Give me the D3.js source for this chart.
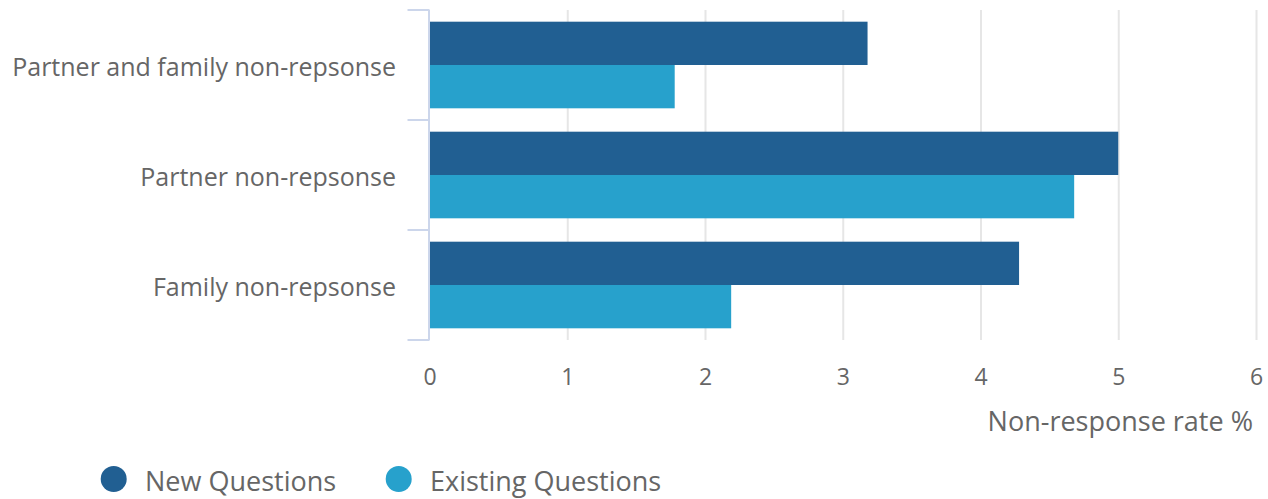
<!DOCTYPE html>
<html>
<head>
<meta charset="utf-8">
<script src="https://cdn.jsdelivr.net/npm/d3@7"></script>
<style>
  html, body { margin: 0; padding: 0; background: #fff; }
  svg { display: block; font-family: "Open Sans", sans-serif; }
</style>
</head>
<body>
<svg id="chart" width="1268" height="499"></svg>
<script>
// Non-response rates by question group
const categories = ["Partner and family non-repsonse", "Partner non-repsonse", "Family non-repsonse"];
const seriesNames = ["New Questions", "Existing Questions"];
const newQuestions = [3.18, 5.0, 4.28];
const existingQuestions = [1.78, 4.68, 2.19];
const xTicks = [0, 1, 2, 3, 4, 5, 6];
const xTitle = "Non-response rate %";

const colors = ["#215f92", "#27a1cc"];
const textColor = "#666666";

const svg = d3.select("#chart");

const plot = { left: 429.5, right: 1256, top: 10, bottom: 340 };

const x = d3.scaleLinear().domain([0, 6]).range([plot.left, plot.right]);
const y = d3.scaleBand().domain(categories).range([plot.top, plot.bottom]).paddingInner(0).paddingOuter(0);
const inner = d3.scaleBand().domain(seriesNames).range([0, y.bandwidth()]).paddingOuter(0.27).paddingInner(0);

// vertical grid lines
const grid = svg.append("g")
  .attr("transform", `translate(0,${plot.bottom})`)
  .call(d3.axisBottom(x).tickValues(xTicks).tickSize(-(plot.bottom - plot.top)).tickFormat(""));
grid.select(".domain").remove();
grid.selectAll(".tick line").attr("stroke", "#e6e6e6").attr("stroke-width", 2);
grid.selectAll(".tick").filter(d => d === 0).remove();

// bars
const rows = categories.map((c, i) => ({ cat: c, values: [newQuestions[i], existingQuestions[i]] }));
const groups = svg.append("g").selectAll("g").data(rows).join("g")
  .attr("transform", d => `translate(0,${y(d.cat)})`);
groups.selectAll("rect").data(d => d.values.map((v, j) => ({ v, s: seriesNames[j], j })))
  .join("rect")
  .attr("x", x(0))
  .attr("y", d => inner(d.s))
  .attr("width", d => x(d.v) - x(0))
  .attr("height", inner.bandwidth())
  .attr("fill", d => colors[d.j]);

// category axis with boundary ticks
const yAxis = svg.append("g");
yAxis.append("line")
  .attr("x1", plot.left - 0.5).attr("x2", plot.left - 0.5)
  .attr("y1", plot.top).attr("y2", plot.bottom)
  .attr("stroke", "#ccd6eb").attr("stroke-width", 2);
const bounds = categories.map(c => y(c)).concat([plot.bottom]);
yAxis.selectAll("line.tick").data(bounds).join("line")
  .attr("class", "tick")
  .attr("x1", plot.left - 22).attr("x2", plot.left)
  .attr("y1", d => d).attr("y2", d => d)
  .attr("stroke", "#ccd6eb").attr("stroke-width", 2);
yAxis.selectAll("text").data(categories).join("text")
  .attr("x", 396)
  .attr("y", d => y(d) + y.bandwidth() / 2 + 11)
  .attr("text-anchor", "end")
  .attr("fill", textColor)
  .attr("font-size", 25)
  .text(d => d);

// value axis labels
const xAxis = svg.append("g")
  .attr("transform", `translate(0,${plot.bottom})`)
  .call(d3.axisBottom(x).tickValues(xTicks).tickSize(0).tickFormat(d3.format("d")));
xAxis.select(".domain").remove();
xAxis.selectAll("text")
  .attr("y", 45).attr("dy", null)
  .attr("fill", textColor).attr("font-size", 23)
  .attr("font-family", "Open Sans, sans-serif");

svg.append("text")
  .attr("x", 1253).attr("y", 431)
  .attr("text-anchor", "end")
  .attr("fill", textColor)
  .attr("font-size", 27)
  .text(xTitle);

// legend
const legendX = [113.7, 398.7];
const legend = svg.append("g").selectAll("g").data(seriesNames).join("g")
  .attr("transform", (d, i) => `translate(${legendX[i]},479)`);
legend.append("circle").attr("r", 13).attr("fill", (d, i) => colors[i]);
legend.append("text")
  .attr("x", 31.3).attr("y", 11.5)
  .attr("fill", textColor)
  .attr("font-size", 27)
  .text(d => d);
</script>
</body>
</html>
